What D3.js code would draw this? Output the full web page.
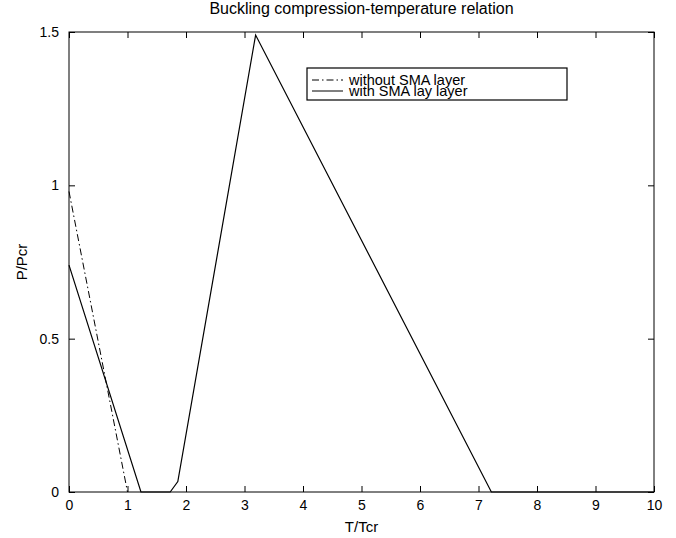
<!DOCTYPE html>
<html>
<head>
<meta charset="utf-8">
<script src="https://cdn.jsdelivr.net/npm/d3@7"></script>
<style>
  body { margin: 0; background: #fff; }
  svg { font-family: "Liberation Sans", Arial, sans-serif; }
</style>
</head>
<body>
<div id="chart"></div>
<script>
// data
const withoutSMA = [
    { t: 0, p: 0.98 },
    { t: 1.0, p: 0 }
];
const withSMA = [
    { t: 0, p: 0.74 },
    { t: 1.23, p: 0 },
    { t: 1.73, p: 0 },
    { t: 1.86, p: 0.034 },
    { t: 3.19, p: 1.49 },
    { t: 7.22, p: 0 },
    { t: 10, p: 0 }
];
const xTicks = [0, 1, 2, 3, 4, 5, 6, 7, 8, 9, 10];
const yTicks = [0, 0.5, 1, 1.5];
const legendLabels = ['without SMA layer', 'with SMA lay layer'];

const width = 676;
const height = 538;
const margin = { top: 32, right: 22, bottom: 46, left: 69 };
const chartWidth = width - margin.left - margin.right;
const chartHeight = height - margin.top - margin.bottom;

const svg = d3.select('#chart')
    .append('svg')
    .attr('width', width)
    .attr('height', height);

const g = svg.append('g')
    .attr('transform', `translate(${margin.left},${margin.top})`);

const x = d3.scaleLinear().domain([0, 10]).range([0, chartWidth]);
const y = d3.scaleLinear().domain([0, 1.5]).range([chartHeight, 0]);

const tickLen = 6;

// axes with inward ticks, MATLAB style box
const styleAxis = sel => {
    sel.select('.domain').remove();
    sel.selectAll('line').attr('stroke', '#000');
    sel.selectAll('text').style('font-size', '14px').attr('fill', '#000');
};

g.append('g')
    .attr('transform', `translate(0,${chartHeight})`)
    .call(d3.axisBottom(x).tickValues(xTicks).tickSize(-tickLen).tickPadding(tickLen + 2).tickFormat(d3.format('d')))
    .call(styleAxis);

g.append('g')
    .call(d3.axisTop(x).tickValues(xTicks).tickSize(-tickLen).tickFormat(''))
    .call(styleAxis);

g.append('g')
    .call(d3.axisLeft(y).tickValues(yTicks).tickSize(-tickLen).tickPadding(tickLen + 4).tickFormat(d => d))
    .call(styleAxis);

g.append('g')
    .attr('transform', `translate(${chartWidth},0)`)
    .call(d3.axisRight(y).tickValues(yTicks).tickSize(-tickLen).tickFormat(''))
    .call(styleAxis);

g.append('rect')
    .attr('width', chartWidth)
    .attr('height', chartHeight)
    .attr('fill', 'none')
    .attr('stroke', '#000')
    .attr('stroke-width', 1);

const line = d3.line()
    .x(d => x(d.t))
    .y(d => y(d.p));

g.append('path')
    .datum(withoutSMA)
    .attr('fill', 'none')
    .attr('stroke', '#000')
    .attr('stroke-width', 1)
    .attr('stroke-dasharray', '7,3,1.5,3')
    .attr('d', line);

g.append('path')
    .datum(withSMA)
    .attr('fill', 'none')
    .attr('stroke', '#000')
    .attr('stroke-width', 1.2)
    .attr('d', line);

// title and axis labels
svg.append('text')
    .attr('x', margin.left + chartWidth / 2)
    .attr('y', 14)
    .attr('text-anchor', 'middle')
    .style('font-size', '16px')
    .text('Buckling compression-temperature relation');

svg.append('text')
    .attr('x', margin.left + chartWidth / 2)
    .attr('y', 532)
    .attr('text-anchor', 'middle')
    .style('font-size', '15px')
    .text('T/Tcr');

svg.append('text')
    .attr('transform', `translate(27,${margin.top + chartHeight / 2}) rotate(-90)`)
    .attr('text-anchor', 'middle')
    .style('font-size', '15px')
    .text('P/Pcr');

// legend
const legend = svg.append('g').attr('transform', 'translate(307,68)');
legend.append('rect')
    .attr('width', 260)
    .attr('height', 32)
    .attr('fill', '#fff')
    .attr('stroke', '#000')
    .attr('stroke-width', 1.2);

legendLabels.forEach((label, i) => {
    const row = legend.append('g').attr('transform', `translate(0,${12 + i * 11})`);
    row.append('line')
        .attr('x1', 5)
        .attr('x2', 36)
        .attr('y1', 0)
        .attr('y2', 0)
        .attr('stroke', '#000')
        .attr('stroke-width', 1)
        .attr('stroke-dasharray', i === 0 ? '7,3,1.5,3' : null);
    row.append('text')
        .attr('x', 42)
        .attr('y', 4.5)
        .style('font-size', '14.5px')
        .text(label);
});
</script>
</body>
</html>
